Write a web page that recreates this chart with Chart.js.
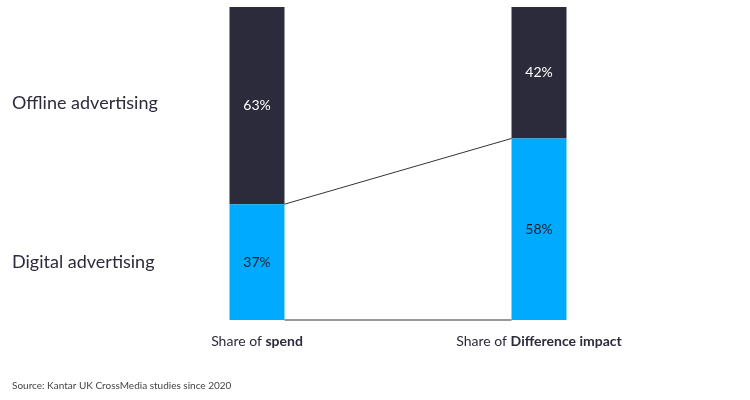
<!DOCTYPE html>
<html>
<head>
<meta charset="utf-8">
<script src="https://cdn.jsdelivr.net/npm/chart.js@4"></script>
<style>
  body { margin: 0; background: #fff; }
  #wrap { width: 750px; height: 400px; }
</style>
</head>
<body>
<div id="wrap"><canvas id="chart"></canvas></div>
<script>
// Data
const categories = ["spend", "Difference impact"];
const digital = [37, 58];
const offline = [63, 42];
const seriesNames = ["Digital advertising", "Offline advertising"];
const source = "Source: Kantar UK CrossMedia studies since 2020";

const DARK = "#2b2b3b";
const BLUE = "#00aaff";
const FONT = "Lato, 'Open Sans', sans-serif";

// connectors, value labels, side labels, category labels
const decor = {
    id: "decor",
    afterDatasetsDraw(chart) {
        const ctx = chart.ctx;
        const y = chart.scales.y;
        const dig = chart.getDatasetMeta(0).data;
        const off = chart.getDatasetMeta(1).data;

        ctx.save();
        // connector lines
        ctx.strokeStyle = "#333";
        ctx.lineWidth = 1;
        ctx.beginPath();
        ctx.moveTo(dig[0].x + dig[0].width / 2, dig[0].y);
        ctx.lineTo(dig[1].x - dig[1].width / 2, dig[1].y);
        ctx.moveTo(dig[0].x + dig[0].width / 2, y.getPixelForValue(0));
        ctx.lineTo(dig[1].x - dig[1].width / 2, y.getPixelForValue(0));
        ctx.stroke();

        // values in bars
        ctx.font = "14px " + FONT;
        ctx.textAlign = "center";
        ctx.textBaseline = "middle";
        dig.forEach((b, i) => {
            ctx.fillStyle = "#1a1a2a";
            ctx.fillText(digital[i] + "%", b.x, (b.y + b.base) / 2);
        });
        off.forEach((b, i) => {
            ctx.fillStyle = "#fff";
            ctx.fillText(offline[i] + "%", b.x, (b.y + b.base) / 2);
        });

        // series labels on the left
        ctx.font = "18px " + FONT;
        ctx.textAlign = "left";
        ctx.fillStyle = "#2b2b3b";
        ctx.fillText(seriesNames[1], 12, 103);
        ctx.fillText(seriesNames[0], 12, 262);

        // category labels, mixed weight
        ctx.font = "14px " + FONT;
        dig.forEach((b, i) => {
            const pre = "Share of ";
            ctx.font = "14px " + FONT;
            const w1 = ctx.measureText(pre).width;
            ctx.font = "bold 14px " + FONT;
            const w2 = ctx.measureText(categories[i]).width;
            let x = b.x - (w1 + w2) / 2;
            ctx.font = "14px " + FONT;
            ctx.fillText(pre, x, 341);
            ctx.font = "bold 14px " + FONT;
            ctx.fillText(categories[i], x + w1, 341);
        });

        // source
        ctx.font = "10px " + FONT;
        ctx.fillStyle = "#444";
        ctx.fillText(source, 12, 386);
        ctx.restore();
    }
};

new Chart(document.getElementById("chart"), {
    type: "bar",
    data: {
        labels: categories,
        datasets: [
            { label: seriesNames[0], data: digital, backgroundColor: BLUE },
            { label: seriesNames[1], data: offline, backgroundColor: DARK }
        ]
    },
    options: {
        responsive: true,
        maintainAspectRatio: false,
        animation: false,
        layout: { padding: { left: 116, right: 70, top: 7, bottom: 80 } },
        datasets: { bar: { categoryPercentage: 1, barPercentage: 0.195 } },
        plugins: { legend: { display: false }, tooltip: { enabled: false } },
        scales: {
            x: { stacked: true, display: false },
            y: { stacked: true, display: false, min: 0, max: 100 }
        }
    },
    plugins: [decor]
});
</script>
</body>
</html>
